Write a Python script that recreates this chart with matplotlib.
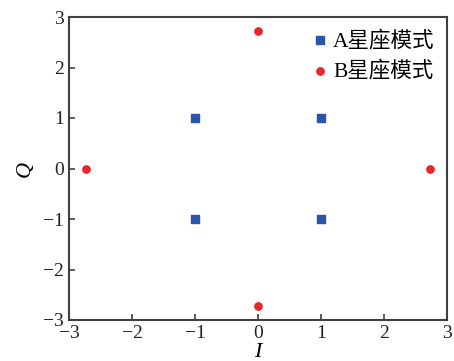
import matplotlib
matplotlib.use("Agg")
import matplotlib.pyplot as plt

a_x = [-1, 1, -1, 1]
a_y = [1, 1, -1, -1]
b_x = [0, 0, -2.73, 2.73]
b_y = [2.73, -2.73, 0, 0]
labels = ["A星座模式", "B星座模式"]
ticks = [-3, -2, -1, 0, 1, 2, 3]

plt.rcParams['font.family'] = ['Liberation Serif', 'Noto Sans CJK SC']
plt.rcParams['mathtext.fontset'] = 'stix'

fig = plt.figure(figsize=(4.54, 3.61), dpi=100)
ax = fig.add_axes([69/454, 1-320/361, 378/454, 303/361])
ax.scatter(a_x, a_y, marker='s', s=26, color='#2a55a8', label=labels[0], zorder=3)
ax.scatter(b_x, b_y, marker='o', s=28, color='#e8262b', label=labels[1], zorder=3)
ax.set_xlim(-3, 3)
ax.set_ylim(-3, 3)
ax.set_xticks(ticks)
ax.set_yticks(ticks)
ax.tick_params(direction='in', length=4, width=1.2, labelsize=14, colors='#404040', labelcolor='#222222')
for s in ax.spines.values():
    s.set_linewidth(1.5)
    s.set_color('#404040')
ax.set_xlabel('I', fontsize=16, style='italic', labelpad=1)
ax.set_ylabel('Q', fontsize=16, style='italic', labelpad=6)
leg = ax.legend(loc='upper right', frameon=False, handletextpad=0.1,
                handlelength=1.0, borderaxespad=0.0, labelspacing=0.45,
                bbox_to_anchor=(0.99, 0.985),
                prop={'family': ['Liberation Serif', 'Noto Sans CJK SC'], 'size': 15.5})
fig.savefig('out.png', dpi=100)
